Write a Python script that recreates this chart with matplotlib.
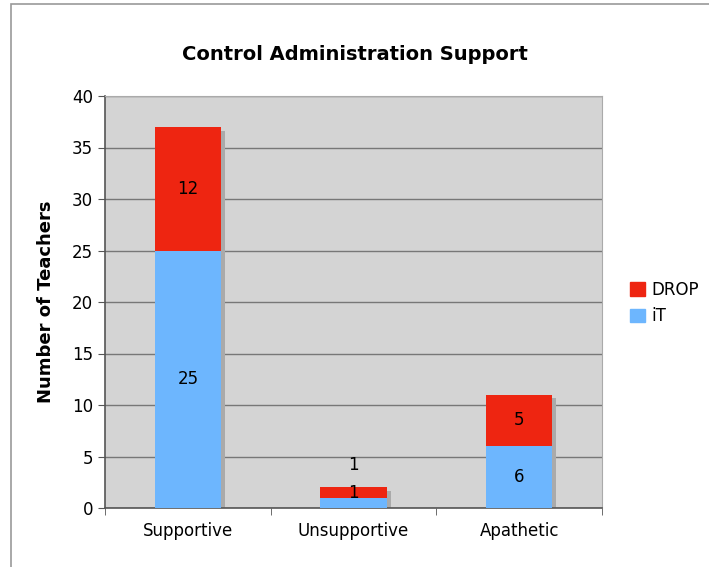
import matplotlib
matplotlib.use("Agg")
import matplotlib.pyplot as plt
import numpy as np
from matplotlib.patches import Rectangle

categories = ["Supportive", "Unsupportive", "Apathetic"]
it_vals = [25, 1, 6]
drop_vals = [12, 1, 5]
yticks = [0, 5, 10, 15, 20, 25, 30, 35, 40]

RED = "#ee2511"
BLUE = "#6db6fe"

fig = plt.figure(figsize=(7.09, 5.67), dpi=100)
ax = fig.add_axes([105/709, 1-508/567, (602-105)/709, (508-96)/567])
ax.set_facecolor("#d4d4d4")

x = np.arange(len(categories))
w = 0.4
it = np.array(it_vals)
dr = np.array(drop_vals)
tot = it + dr

# shadows
ax.bar(x + 0.025, tot - 0.35, width=w, bottom=0, color="#aaaaaa", zorder=2)
ax.bar(x, it, width=w, color=BLUE, zorder=3)
ax.bar(x, dr, width=w, bottom=it, color=RED, zorder=3)

for i in range(len(categories)):
    if it[i] >= 3:
        ax.text(x[i], it[i]/2, str(it[i]), ha="center", va="center", fontsize=12, zorder=4)
    else:
        ax.text(x[i], it[i] + 0.5, str(it[i]), ha="center", va="center", fontsize=12, zorder=4)
    if dr[i] >= 3:
        ax.text(x[i], it[i] + dr[i]/2, str(dr[i]), ha="center", va="center", fontsize=12, zorder=4)
    else:
        ax.text(x[i], tot[i] + 2.2, str(dr[i]), ha="center", va="center", fontsize=12, zorder=4)

ax.set_xlim(-0.5, len(categories) - 0.5)
ax.set_ylim(0, 40)
ax.set_yticks(yticks)
ax.set_yticklabels([str(t) for t in yticks], fontsize=12)
ax.yaxis.grid(True, color="#777777", linewidth=1.0, zorder=1)
ax.set_axisbelow(True)
ax.set_xticks(x)
ax.set_xticklabels(categories, fontsize=12)
ax.tick_params(axis="x", length=0, pad=10)
ax.set_xticks(np.arange(len(categories) + 1) - 0.5, minor=True)
ax.tick_params(axis="x", which="minor", length=5, color="#555555")
ax.tick_params(axis="y", length=5, color="#555555", direction="out")
for s in ["top", "right"]:
    ax.spines[s].set_color("#aaaaaa")
for s in ["left", "bottom"]:
    ax.spines[s].set_color("#555555")
    ax.spines[s].set_linewidth(1.2)

ax.set_ylabel("Number of Teachers", fontsize=13, fontweight="bold", labelpad=12)
fig.text(355/709, 1-55/567, "Control Administration Support", ha="center", va="center",
         fontsize=14, fontweight="bold")

handles = [Rectangle((0, 0), 1, 1, color=RED), Rectangle((0, 0), 1, 1, color=BLUE)]
fig.legend(handles, ["DROP", "iT"], loc="center left", bbox_to_anchor=(615/709, 1-303/567),
           frameon=False, fontsize=12, handlelength=0.9, handleheight=0.9,
           handletextpad=0.4, labelspacing=0.5)

fig.patches.append(Rectangle((11/709, -0.01), 1.0, 1 - 4/567 + 0.01, transform=fig.transFigure,
                             fill=False, edgecolor="#999999", linewidth=1.2))

fig.savefig("out.png", dpi=100)
